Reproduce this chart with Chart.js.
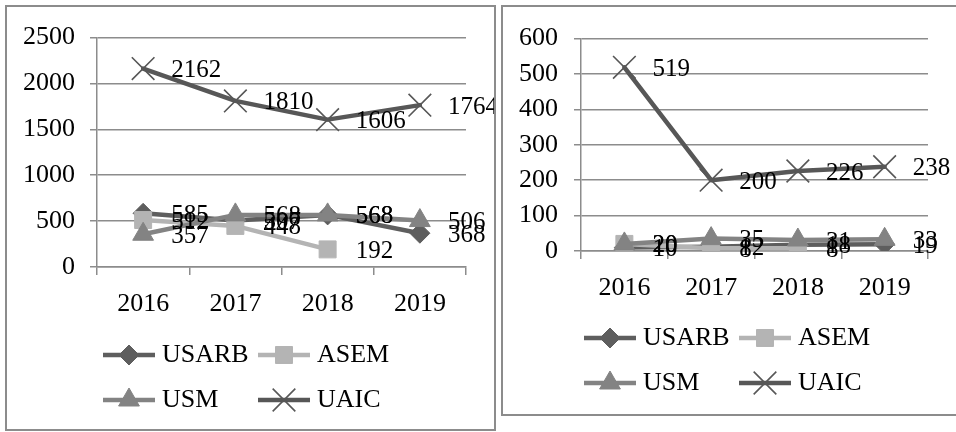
<!DOCTYPE html>
<html>
<head>
<meta charset="utf-8">
<script src="https://cdn.jsdelivr.net/npm/chart.js@4.4.1/dist/chart.umd.min.js"></script>
<style>
  html, body { margin: 0; padding: 0; background: #fff; width: 956px; height: 432px; overflow: hidden; }
  .box { position: absolute; border: 2px solid #8c8c8c; box-sizing: border-box; background: #fff; overflow: hidden; }
  #boxA { left: 5px; top: 5px; width: 491px; height: 426px; }
  #boxB { left: 501px; top: 5px; width: 470px; height: 411px; }
  canvas { position: absolute; left: 0; top: 0; }
</style>
</head>
<body>
<div class="box" id="boxA"><canvas id="chartA" width="487" height="422" style="width:487px;height:422px"></canvas></div>
<div class="box" id="boxB"><canvas id="chartB" width="466" height="407" style="width:466px;height:407px"></canvas></div>
<script>
// Years on the horizontal axis
const years = ['2016', '2017', '2018', '2019'];
const seriesNames = ['USARB', 'ASEM', 'USM', 'UAIC'];

// First panel
const usarbA = [585, 507, 568, 368];
const asemA  = [512, 448, 192, null];
const usmA   = [357, 568, 568, 506];
const uaicA  = [2162, 1810, 1606, 1764];
const yMaxA = 2500, yStepA = 500;

// Second panel
const usarbB = [10, 12, 18, 19];
const asemB  = [20, 8, 8, null];
const usmB   = [20, 35, 31, 33];
const uaicB  = [519, 200, 226, 238];
const yMaxB = 600, yStepB = 100;

const FONT = '"Liberation Serif", "Times New Roman", serif';
const AXIS_GREY = '#8c8c8c';

// Visual style of each series (line colour, marker shape and size)
const seriesStyle = [
  { color: '#5e5e5e', marker: 'rectRot',  radius: 10, fill: '#5e5e5e', border: 1, order: 4 },
  { color: '#b4b4b4', marker: 'rect',     radius: 12, fill: '#b4b4b4', border: 1, order: 3 },
  { color: '#838383', marker: 'triangle', radius: 12, fill: '#838383', border: 1, order: 2 },
  { color: '#575757', marker: 'crossRot', radius: 16, fill: '#575757', border: 1.6, order: 1 }
];

function buildDatasets(values) {
  return values.map((vals, i) => {
    const s = seriesStyle[i];
    return {
      label: seriesNames[i],
      data: vals,
      borderColor: s.color,
      backgroundColor: s.fill,
      borderWidth: 4.5,
      borderJoinStyle: 'round',
      borderCapStyle: 'round',
      tension: 0,
      pointStyle: s.marker,
      pointRadius: s.radius,
      pointHoverRadius: s.radius,
      pointBackgroundColor: s.fill,
      pointBorderColor: s.color,
      pointBorderWidth: s.border,
      spanGaps: false,
      order: s.order
    };
  });
}

// Value labels to the right of every point
const valueLabels = {
  id: 'valueLabels',
  afterDatasetsDraw(chart, args, opts) {
    const ctx = chart.ctx;
    ctx.save();
    ctx.font = opts.size + 'px ' + FONT;
    ctx.fillStyle = '#000';
    ctx.textAlign = 'left';
    ctx.textBaseline = 'middle';
    chart.data.datasets.forEach((ds, i) => {
      const meta = chart.getDatasetMeta(i);
      meta.data.forEach((pt, j) => {
        const v = ds.data[j];
        if (v === null || v === undefined) return;
        ctx.fillText(String(v), pt.x + opts.dx, pt.y + opts.dy);
      });
    });
    ctx.restore();
  }
};

// Legend with a line segment and marker for each series
const lineLegend = {
  id: 'lineLegend',
  afterDraw(chart, args, opts) {
    const ctx = chart.ctx;
    opts.items.forEach(it => {
      const ds = chart.data.datasets[it.ds];
      ctx.save();
      ctx.strokeStyle = ds.borderColor;
      ctx.lineWidth = ds.borderWidth;
      ctx.lineCap = 'butt';
      ctx.beginPath();
      ctx.moveTo(it.x, it.y);
      ctx.lineTo(it.x + opts.len, it.y);
      ctx.stroke();
      ctx.fillStyle = ds.pointBackgroundColor;
      ctx.strokeStyle = ds.pointBorderColor;
      ctx.lineWidth = ds.pointBorderWidth;
      Chart.helpers.drawPoint(ctx, {
        pointStyle: ds.pointStyle,
        radius: ds.pointRadius,
        borderWidth: ds.pointBorderWidth,
        rotation: 0
      }, it.x + opts.len / 2, it.y);
      ctx.fillStyle = '#000';
      ctx.font = opts.size + 'px ' + FONT;
      ctx.textAlign = 'left';
      ctx.textBaseline = 'middle';
      ctx.fillText(ds.label, it.x + opts.len + opts.gap, it.y);
      ctx.restore();
    });
  }
};

function makeChart(id, values, yMax, yStep, geo) {
  return new Chart(document.getElementById(id), {
    type: 'line',
    data: { labels: years, datasets: buildDatasets(values) },
    options: {
      responsive: false,
      animation: false,
      devicePixelRatio: 1,
      events: [],
      layout: { padding: { left: 0, top: geo.top, right: geo.right, bottom: geo.bottom } },
      plugins: {
        legend: { display: false },
        tooltip: { enabled: false },
        valueLabels: { size: 25, dx: 28, dy: 2 },
        lineLegend: { size: 26, len: 52, gap: 7, items: geo.legend }
      },
      scales: {
        x: {
          type: 'category',
          offset: true,
          afterFit(scale) { scale.height = 60; },
          grid: { display: true, drawOnChartArea: false, drawTicks: true, tickLength: 8, offset: true, color: AXIS_GREY, lineWidth: 1.5 },
          border: { display: true, color: AXIS_GREY, width: 1.5 },
          ticks: { color: '#000', font: { family: FONT, size: 26 }, padding: 14, maxRotation: 0, autoSkip: false }
        },
        y: {
          min: 0,
          max: yMax,
          afterFit(scale) { scale.width = geo.left; },
          grid: { color: AXIS_GREY, lineWidth: 1.5, drawTicks: true, tickLength: 7 },
          border: { display: true, color: AXIS_GREY, width: 1.5 },
          ticks: {
            stepSize: yStep, color: '#000', font: { family: FONT, size: 26 }, padding: geo.yPad,
            callback: (v) => String(v)
          }
        }
      }
    },
    plugins: [valueLabels, lineLegend]
  });
}

makeChart('chartA', [usarbA, asemA, usmA, uaicA], yMaxA, yStepA, {
  left: 90, top: 26, right: 28, bottom: 102, yPad: 15,
  legend: [
    { ds: 0, x: 96,  y: 348 },
    { ds: 1, x: 251, y: 348 },
    { ds: 2, x: 96,  y: 393 },
    { ds: 3, x: 251, y: 393 }
  ]
});

makeChart('chartB', [usarbB, asemB, usmB, uaicB], yMaxB, yStepB, {
  left: 78, top: 26, right: 41, bottom: 103, yPad: 16,
  legend: [
    { ds: 0, x: 81,  y: 331 },
    { ds: 1, x: 236, y: 331 },
    { ds: 2, x: 81,  y: 376 },
    { ds: 3, x: 236, y: 376 }
  ]
});
</script>
</body>
</html>
